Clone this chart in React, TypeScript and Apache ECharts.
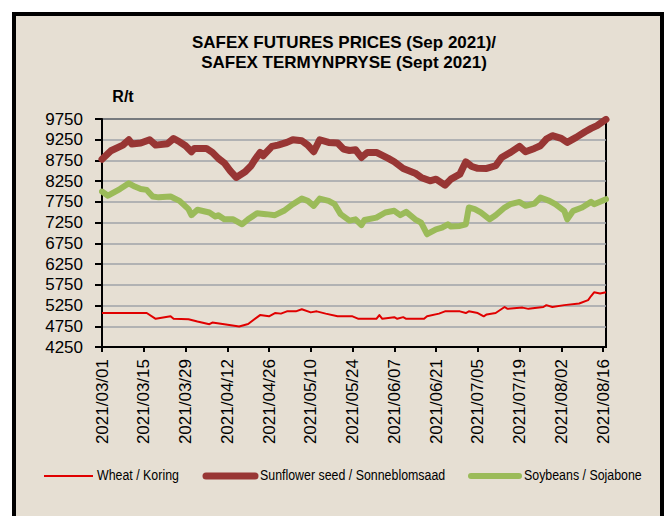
import React, { useEffect, useRef } from "react";
import * as echarts from "echarts";

const YEAR = 2021;
const axisStart = "03-01";
const axisEnd = "08-17";
const tickDates = ["03-01", "03-15", "03-29", "04-12", "04-26", "05-10", "05-24", "06-07", "06-21", "07-05", "07-19", "08-02", "08-16"];
const yMin = 4250;
const yMax = 9750;
const yStep = 500;

const titleText = "SAFEX FUTURES PRICES (Sep 2021)/\nSAFEX TERMYNPRYSE (Sept 2021)";
const unitText = "R/t";
const seriesNames = ["Wheat / Koring", "Sunflower seed / Sonneblomsaad", "Soybeans / Sojabone"];
const seriesColors = ["#e00000", "#983634", "#9bbb59"];
const seriesWidths = [2, 7, 6];

const wheatDates = ["03-01", "03-16", "03-19", "03-24", "03-25", "03-30", "04-02", "04-06", "04-07", "04-11", "04-16", "04-19", "04-23", "04-26", "04-28", "04-30", "05-02", "05-05", "05-07", "05-10", "05-12", "05-15", "05-19", "05-24", "05-26", "06-01", "06-02", "06-03", "06-07", "06-08", "06-10", "06-11", "06-17", "06-18", "06-22", "06-24", "06-29", "07-01", "07-02", "07-05", "07-07", "07-08", "07-11", "07-14", "07-15", "07-20", "07-22", "07-27", "07-28", "07-30", "08-03", "08-08", "08-11", "08-12", "08-13", "08-15", "08-17"];
const wheatValues = [5070, 5070, 4930, 4990, 4930, 4920, 4865, 4800, 4840, 4800, 4745, 4805, 5020, 4990, 5070, 5055, 5110, 5110, 5160, 5085, 5110, 5055, 4990, 4990, 4930, 4930, 5020, 4930, 4970, 4930, 4970, 4930, 4930, 4990, 5055, 5110, 5110, 5070, 5110, 5070, 4990, 5035, 5070, 5215, 5170, 5200, 5170, 5215, 5260, 5215, 5260, 5300, 5380, 5480, 5570, 5540, 5570];

const sunflowerDates = ["03-01", "03-04", "03-08", "03-10", "03-11", "03-14", "03-17", "03-19", "03-23", "03-25", "03-27", "03-29", "03-31", "04-01", "04-05", "04-07", "04-09", "04-11", "04-13", "04-15", "04-18", "04-20", "04-21", "04-23", "04-24", "04-27", "04-29", "05-02", "05-04", "05-07", "05-09", "05-11", "05-13", "05-16", "05-19", "05-21", "05-23", "05-25", "05-27", "05-29", "06-01", "06-05", "06-07", "06-10", "06-14", "06-16", "06-19", "06-21", "06-24", "06-26", "06-29", "07-01", "07-03", "07-05", "07-08", "07-11", "07-13", "07-16", "07-19", "07-21", "07-24", "07-26", "07-28", "07-30", "08-02", "08-04", "08-07", "08-10", "08-12", "08-14", "08-17"];
const sunflowerValues = [8780, 8985, 9120, 9250, 9145, 9170, 9250, 9120, 9155, 9280, 9200, 9105, 8960, 9040, 9040, 8945, 8800, 8690, 8500, 8340, 8476, 8622, 8740, 8944, 8863, 9089, 9121, 9185, 9250, 9226, 9121, 8960, 9250, 9185, 9170, 9024, 8990, 9008, 8823, 8944, 8944, 8799, 8718, 8557, 8444, 8340, 8259, 8299, 8154, 8299, 8420, 8718, 8605, 8560, 8557, 8622, 8823, 8944, 9089, 8960, 9040, 9105, 9266, 9347, 9282, 9185, 9307, 9444, 9524, 9589, 9740];

const soyDates = ["03-01", "03-03", "03-07", "03-10", "03-12", "03-14", "03-16", "03-18", "03-20", "03-24", "03-27", "03-30", "03-31", "04-02", "04-06", "04-08", "04-09", "04-11", "04-14", "04-17", "04-19", "04-22", "04-25", "04-28", "05-01", "05-04", "05-07", "05-09", "05-11", "05-13", "05-16", "05-18", "05-20", "05-23", "05-25", "05-27", "05-28", "06-01", "06-04", "06-07", "06-09", "06-11", "06-14", "06-16", "06-18", "06-21", "06-23", "06-25", "06-26", "06-29", "07-01", "07-02", "07-04", "07-06", "07-09", "07-11", "07-14", "07-16", "07-19", "07-21", "07-24", "07-26", "07-29", "07-31", "08-03", "08-04", "08-06", "08-09", "08-12", "08-13", "08-17"];
const soyValues = [8000, 7900, 8060, 8200, 8120, 8060, 8040, 7880, 7860, 7880, 7775, 7575, 7430, 7560, 7495, 7400, 7430, 7330, 7330, 7210, 7330, 7475, 7455, 7430, 7535, 7695, 7830, 7775, 7655, 7830, 7775, 7695, 7455, 7300, 7330, 7190, 7315, 7370, 7495, 7535, 7430, 7510, 7330, 7250, 6970, 7090, 7130, 7210, 7155, 7170, 7210, 7615, 7575, 7495, 7330, 7430, 7615, 7695, 7750, 7655, 7710, 7855, 7775, 7695, 7535, 7330, 7535, 7615, 7750, 7695, 7815];

const FONT = "'Liberation Sans', Arial, sans-serif";
const BG = "#e6dfd3";

// legend layout (sample start x, sample end x, text x)
const legendY = 475;
const legendItems = [
  [44, 93, 97],
  [206, 255, 260],
  [471, 519, 524],
];

const ts = (md: string) => {
  const [m, d] = md.split("-").map(Number);
  return new Date(YEAR, m - 1, d).getTime();
};
const pad = (n: number) => String(n).padStart(2, "0");
const fmt = (v: number) => {
  const d = new Date(v);
  return `${d.getFullYear()}/${pad(d.getMonth() + 1)}/${pad(d.getDate())}`;
};
const pairs = (dates: string[], values: number[]) => dates.map((d, i) => [ts(d), values[i]]);

const tickTs = tickDates.map(ts);

const legendGraphics: any[] = [];
seriesNames.forEach((name, i) => {
  const [x1, x2, tx] = legendItems[i];
  legendGraphics.push({
    type: "line",
    silent: true,
    shape: { x1, y1: legendY + 1, x2, y2: legendY + 1 },
    style: { stroke: seriesColors[i], lineWidth: seriesWidths[i], lineCap: i === 0 ? "butt" : "round" },
  });
  legendGraphics.push({
    type: "text",
    silent: true,
    x: tx,
    y: legendY,
    scaleX: 0.826,
    style: {
      text: name,
      fontSize: 15,
      fontFamily: FONT,
      fill: "#000",
      align: "left",
      verticalAlign: "middle",
    },
  });
});

const option: any = {
  animation: false,
  backgroundColor: "#ffffff",
  graphic: {
    elements: [
      {
        type: "rect",
        z: -100,
        silent: true,
        shape: { x: 14, y: 14, width: 648, height: 520 },
        style: { fill: BG, stroke: "#000", lineWidth: 4 },
      },
      {
        type: "text",
        x: 123,
        y: 96,
        silent: true,
        style: {
          text: unitText,
          fontSize: 16,
          fontWeight: "bold",
          fontFamily: FONT,
          fill: "#000",
          align: "center",
          verticalAlign: "middle",
        },
      },
      ...legendGraphics,
    ],
  },
  title: {
    text: titleText,
    left: 339,
    top: 27,
    textAlign: "center",
    textStyle: { fontFamily: FONT, fontSize: 17, fontWeight: "bold", lineHeight: 20, color: "#000" },
  },
  grid: {
    left: 102,
    right: 59,
    top: 119,
    bottom: 169,
    show: true,
    borderColor: "#000",
    borderWidth: 2,
    backgroundColor: "transparent",
  },
  xAxis: {
    type: "value",
    min: ts(axisStart),
    max: ts(axisEnd),
    axisLine: { show: true, lineStyle: { color: "#000", width: 2 } },
    axisTick: { show: true, length: 5, customValues: tickTs, lineStyle: { color: "#000", width: 2 } },
    axisLabel: {
      customValues: tickTs,
      rotate: 90,
      margin: 12,
      fontSize: 17,
      fontFamily: FONT,
      color: "#000",
      formatter: (v: number) => fmt(v),
    },
    splitLine: { show: false },
  },
  yAxis: {
    type: "value",
    min: yMin,
    max: yMax,
    interval: yStep,
    axisLine: { show: true, lineStyle: { color: "#000", width: 2 } },
    axisTick: { show: true, length: 7, lineStyle: { color: "#000", width: 2 } },
    axisLabel: { margin: 19, fontSize: 17, fontFamily: FONT, color: "#000", formatter: (v: number) => String(v) },
    splitLine: { show: true, lineStyle: { color: "#9fa3a8", width: 1.5 } },
  },
  series: [
    {
      name: seriesNames[0],
      type: "line",
      data: pairs(wheatDates, wheatValues),
      symbol: "none",
      lineStyle: { color: seriesColors[0], width: seriesWidths[0], join: "round" },
      itemStyle: { color: seriesColors[0] },
    },
    {
      name: seriesNames[1],
      type: "line",
      data: pairs(sunflowerDates, sunflowerValues),
      symbol: "none",
      lineStyle: { color: seriesColors[1], width: seriesWidths[1], join: "round", cap: "round" },
      itemStyle: { color: seriesColors[1] },
    },
    {
      name: seriesNames[2],
      type: "line",
      data: pairs(soyDates, soyValues),
      symbol: "none",
      lineStyle: { color: seriesColors[2], width: seriesWidths[2], join: "round", cap: "round" },
      itemStyle: { color: seriesColors[2] },
    },
  ],
};

export default function App() {
  const ref = useRef<HTMLDivElement>(null);
  useEffect(() => {
    const chart = echarts.init(ref.current as HTMLDivElement, null, { renderer: "svg" });
    chart.setOption(option);
    return () => chart.dispose();
  }, []);
  return <div ref={ref} style={{ position: "absolute", left: 0, top: 0, width: 665, height: 516 }} />;
}
